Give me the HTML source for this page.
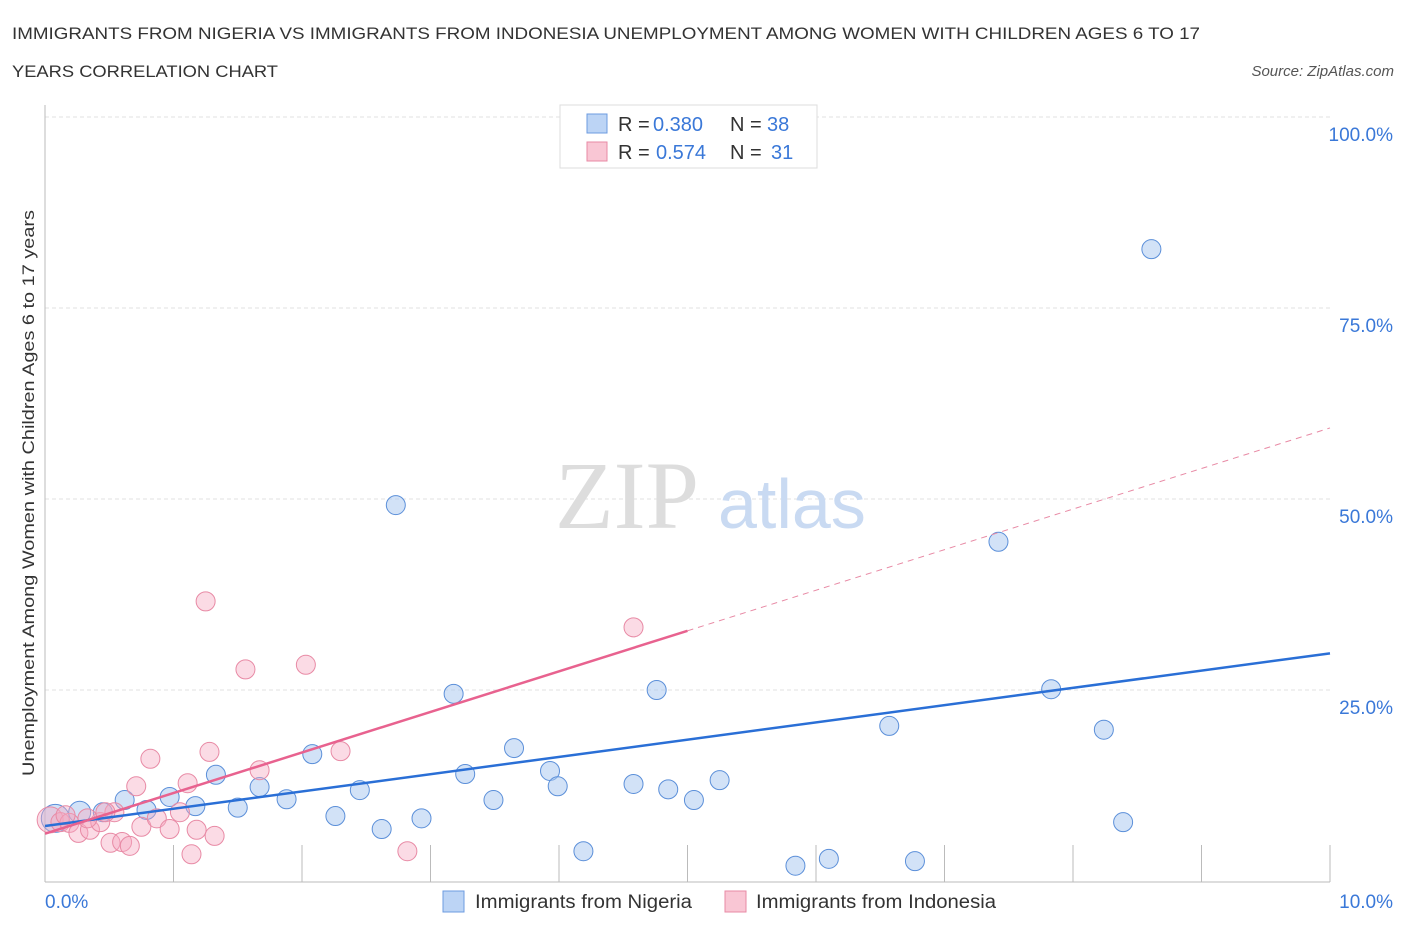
<!DOCTYPE html>
<html><head><meta charset="utf-8"><style>
body{margin:0;background:#fff;font-family:"Liberation Sans",sans-serif;}
</style></head><body>
<svg width="1406" height="930" style="font-family:'Liberation Sans',sans-serif">
<text x="12" y="39" font-size="17" fill="#333" textLength="1188" lengthAdjust="spacingAndGlyphs">IMMIGRANTS FROM NIGERIA VS IMMIGRANTS FROM INDONESIA UNEMPLOYMENT AMONG WOMEN WITH CHILDREN AGES 6 TO 17</text>
<text x="12" y="77" font-size="17" fill="#333" textLength="266" lengthAdjust="spacingAndGlyphs">YEARS CORRELATION CHART</text>
<text x="1394" y="76" font-size="15" fill="#555" font-style="italic" text-anchor="end">Source: ZipAtlas.com</text>
<g id="grid"></g>
<text x="555" y="528" font-size="96" fill="#ddd" font-family="Liberation Serif,serif">ZIP</text>
<text x="718" y="528" font-size="70" fill="#c9daf2">atlas</text>
<line x1="45" y1="105" x2="45" y2="882" stroke="#bbb"/>
<line x1="45" y1="882" x2="1330" y2="882" stroke="#bbb"/>
<g id="ticks"></g>
<g id="marks"></g>
<text transform="translate(34,493) rotate(-90)" font-size="17" fill="#333" text-anchor="middle" textLength="566" lengthAdjust="spacingAndGlyphs">Unemployment Among Women with Children Ages 6 to 17 years</text>
<text x="45" y="908" font-size="19" fill="#3a78d8">0.0%</text>
<text x="1393" y="908" font-size="19" fill="#3a78d8" text-anchor="end">10.0%</text>
<g>
<rect x="560" y="105" width="257" height="63" fill="#fff" stroke="#ddd"/>
<rect x="587" y="114" width="20" height="19" fill="#bcd4f5" stroke="#6c9be0"/>
<text x="618" y="131" font-size="20" fill="#333">R =</text>
<text x="653" y="131" font-size="20" fill="#3a78d8">0.380</text>
<text x="730" y="131" font-size="20" fill="#333">N =</text>
<text x="767" y="131" font-size="20" fill="#3a78d8">38</text>
<rect x="587" y="142" width="20" height="19" fill="#f9c6d4" stroke="#e88aa5"/>
<text x="618" y="159" font-size="20" fill="#333">R =</text>
<text x="656" y="159" font-size="20" fill="#3a78d8">0.574</text>
<text x="730" y="159" font-size="20" fill="#333">N =</text>
<text x="771" y="159" font-size="20" fill="#3a78d8">31</text>
</g>
<g>
<rect x="443" y="891" width="21" height="21" fill="#bcd4f5" stroke="#6c9be0"/>
<text x="475" y="908" font-size="19" fill="#333" textLength="217" lengthAdjust="spacingAndGlyphs">Immigrants from Nigeria</text>
<rect x="725" y="891" width="21" height="21" fill="#f9c6d4" stroke="#e88aa5"/>
<text x="756" y="908" font-size="19" fill="#333" textLength="240" lengthAdjust="spacingAndGlyphs">Immigrants from Indonesia</text>
</g>
</svg>
<script>
const yTicks=[25,50,75,100];
const yTickLabels=["25.0%","50.0%","75.0%","100.0%"];
const xTicks=[1,2,3,4,5,6,7,8,9,10];
const nigX=[0.08,0.27,0.45,0.62,0.79,0.97,1.17,1.33,1.50,1.67,1.88,2.08,2.26,2.45,2.62,2.73,2.93,3.18,3.27,3.49,3.65,3.93,3.99,4.19,4.58,4.76,4.85,5.05,5.25,5.84,6.10,6.57,6.77,7.42,7.83,8.24,8.39,8.61];
const nigY=[8.2,9.0,9.0,10.6,9.3,11.0,9.8,13.9,9.6,12.3,10.7,16.6,8.5,11.9,6.8,49.2,8.2,24.5,14.0,10.6,17.4,14.4,12.4,3.9,12.7,25.0,12.0,10.6,13.2,2.0,2.9,20.3,2.6,44.4,25.1,19.8,7.7,82.7];
const indX=[0.04,0.12,0.19,0.26,0.35,0.43,0.51,0.54,0.60,0.66,0.71,0.75,0.82,0.87,0.97,1.05,1.11,1.14,1.18,1.25,1.28,1.32,1.56,1.67,2.03,2.30,2.82,4.58,0.33,0.47,0.16];
const indY=[8.0,7.7,7.6,6.3,6.7,7.7,5.0,9.0,5.1,4.6,12.4,7.1,16.0,8.2,6.8,9.0,12.8,3.5,6.7,36.6,16.9,5.9,27.7,14.5,28.3,17.0,3.9,33.2,8.2,9.0,8.6];
const nigTrend=[7.2,29.8];
const indTrend=[6.2,59.3];
const indSolidEnd=5.0;
const NS="http://www.w3.org/2000/svg";
const sx=v=>45+v*128.5, sy=v=>881-v*7.64;
function mk(t,a,p){const e=document.createElementNS(NS,t);for(const k in a)e.setAttribute(k,a[k]);document.getElementById(p).appendChild(e);return e;}
yTicks.forEach((t,i)=>{
 const l=mk('line',{x1:45,x2:1330,y1:sy(t),y2:sy(t),stroke:'#e2e2e2','stroke-dasharray':'4,3'},'grid');
 
 
 const tx=mk('text',{x:1393,y:sy(t)+24,'font-size':19,fill:'#3a78d8','text-anchor':'end'},'grid');
 tx.textContent=yTickLabels[i];
 
 
});
xTicks.forEach(t=>{
 const l=mk('line',{x1:sx(t),x2:sx(t),y1:845,y2:882,stroke:'#bbb'},'ticks');
 
 
});
nigX.forEach((x,i)=>{
 const c=mk('circle',{cx:sx(x),cy:sy(nigY[i]),r:i<2?(i==0?14:11):9.5,fill:'rgba(165,198,240,0.5)',stroke:'#5b8fd9','stroke-width':1},'marks');
 
 
});
indX.forEach((x,i)=>{
 const c=mk('circle',{cx:sx(x),cy:sy(indY[i]),r:i==0?13:9.5,fill:'rgba(245,170,192,0.42)',stroke:'#e88aa5','stroke-width':1},'marks');
 
 
});
const iy=x=>indTrend[0]+(indTrend[1]-indTrend[0])*x/10;
let l=mk('line',{x1:sx(0),y1:sy(nigTrend[0]),x2:sx(10),y2:sy(nigTrend[1]),stroke:'#2a6fd6','stroke-width':2.5},'marks');


l=mk('line',{x1:sx(0),y1:sy(indTrend[0]),x2:sx(indSolidEnd),y2:sy(iy(indSolidEnd)),stroke:'#e8628f','stroke-width':2.5},'marks');


l=mk('line',{x1:sx(indSolidEnd),y1:sy(iy(indSolidEnd)),x2:sx(10),y2:sy(indTrend[1]),stroke:'#e88aa5','stroke-width':1,'stroke-dasharray':'6,5'},'marks');


</script>
</body></html>
